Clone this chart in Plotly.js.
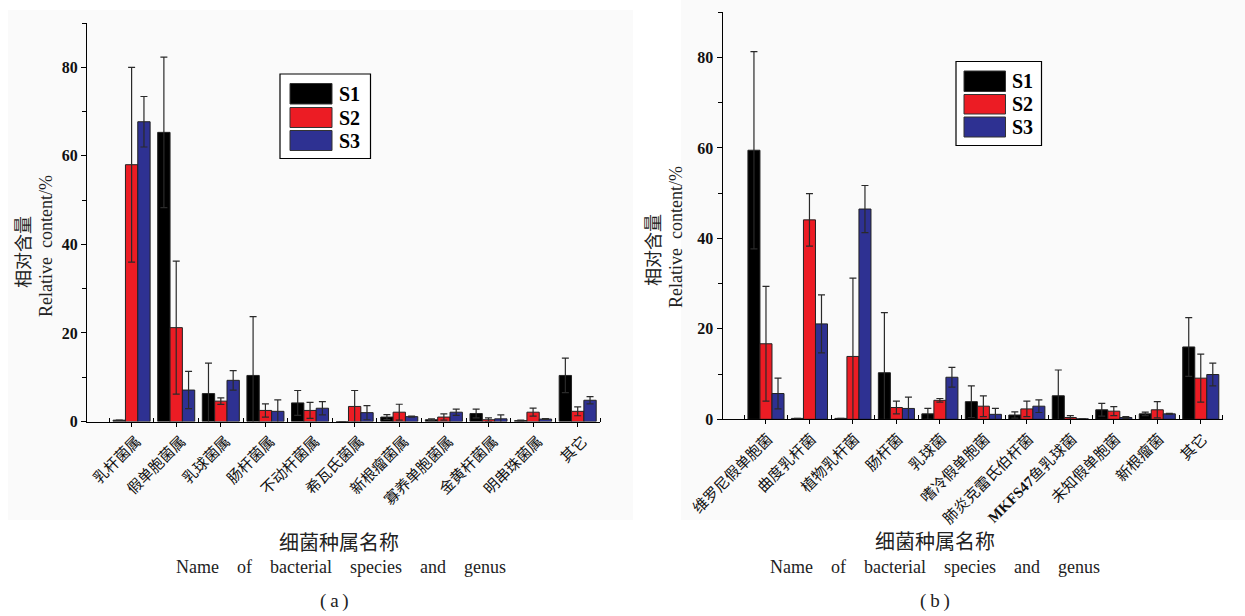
<!DOCTYPE html>
<html>
<head>
<meta charset="utf-8">
<script src="https://cdn.plot.ly/plotly-3.0.1.min.js"></script>
<style>html,body{margin:0;padding:0;background:#fff;}#chart{width:1245px;height:616px;}</style>
</head>
<body>
<div id="chart"></div>
<script>
// ---------- Data: panel (a) ----------
const catsA = ['乳杆菌属','假单胞菌属','乳球菌属','肠杆菌属','不动杆菌属','希瓦氏菌属','新根瘤菌属','寡养单胞菌属','金黄杆菌属','明串珠菌属','其它'];
const s1A    = [0.3, 65.3, 6.3, 10.4, 4.2, 0, 1.0, 0.4, 1.8, 0.2, 10.4];
const s1AErr = [0, 17.0, 6.9, 13.3, 2.8, 0, 0.55, 0.2, 1.0, 0.1, 3.9];
const s2A    = [58.0, 21.2, 4.6, 2.5, 2.5, 3.4, 2.1, 1.0, 0.4, 2.1, 2.3];
const s2AErr = [22.0, 15.0, 0.75, 1.5, 1.8, 3.6, 1.8, 0.7, 0.4, 0.9, 1.0];
const s3A    = [67.7, 7.1, 9.3, 2.3, 3.0, 2.0, 1.1, 2.1, 0.6, 0.55, 4.8];
const s3AErr = [5.7, 4.2, 2.2, 2.6, 1.5, 1.6, 0.1, 0.7, 0.9, 0.1, 0.8];

// ---------- Data: panel (b) ----------
const catsB = ['维罗尼假单胞菌','曲度乳杆菌','植物乳杆菌','肠杆菌','乳球菌','嗜冷假单胞菌','肺炎克雷氏伯杆菌','<span style="font-family:Liberation Serif"><b>MKFS47</b></span>鱼乳球菌','未知假单胞菌','新根瘤菌','其它'];
const s1B    = [59.5, 0.2, 0.2, 10.3, 1.2, 3.9, 0.95, 5.2, 2.1, 1.2, 16.0];
const s1BErr = [21.8, 0, 0, 13.3, 1.2, 3.5, 0.7, 5.7, 1.4, 0.4, 6.5];
const s2B    = [16.7, 44.1, 13.9, 2.6, 4.2, 2.9, 2.3, 0.4, 1.8, 2.1, 9.1];
const s2BErr = [12.7, 5.8, 17.3, 1.4, 0.4, 2.3, 1.7, 0.4, 1.0, 1.8, 5.3];
const s3B    = [5.7, 21.1, 46.5, 2.4, 9.3, 1.1, 2.9, 0.1, 0.4, 1.2, 9.9];
const s3BErr = [3.4, 6.4, 5.2, 2.5, 2.2, 1.3, 1.4, 0, 0.2, 0.1, 2.5];

const seriesNames = ['S1','S2','S3'];
const seriesColors = ['#000000','#ec1c24','#2e3192'];
const yTicks = [0,20,40,60,80];

// ---------- helpers ----------
const W = 1245, H = 616;
const px = x => x / W;
const py = y => 1 - y / H;

function barTrace(cats, vals, errs, k, xa, ya) {
  return {
    type: 'bar',
    x: cats.map((c, i) => i),
    y: vals,
    name: seriesNames[k],
    xaxis: xa, yaxis: ya,
    showlegend: false,
    marker: {color: seriesColors[k], line: {color: '#222', width: 1}},
    error_y: {type: 'data', array: errs, visible: true, color: '#2a2a2a', thickness: 1.2, width: 3.5}
  };
}

const data = [
  barTrace(catsA, s1A, s1AErr, 0, 'x', 'y'),
  barTrace(catsA, s2A, s2AErr, 1, 'x', 'y'),
  barTrace(catsA, s3A, s3AErr, 2, 'x', 'y'),
  barTrace(catsB, s1B, s1BErr, 0, 'x2', 'y2'),
  barTrace(catsB, s2B, s2BErr, 1, 'x2', 'y2'),
  barTrace(catsB, s3B, s3BErr, 2, 'x2', 'y2')
];

const cjk = '"Noto Sans CJK SC", sans-serif';
const serif = '"Liberation Serif", "DejaVu Serif", serif';

function xAxis(cats, dom, anchor, shift) {
  return {
    domain: dom, anchor: anchor,
    range: [-1, 10.5],
    tickmode: 'array',
    tickvals: cats.map((c, i) => i),
    ticktext: cats,
    tickangle: -45,
    ticklabelshift: shift,
    ticks: 'outside', ticklen: 4, tickcolor: '#000', tickwidth: 1,
    minor: {tickmode: 'linear', tick0: -0.5, dtick: 1, ticks: 'inside', ticklen: 4, tickcolor: '#000'},
    showline: true, linecolor: '#000', linewidth: 1,
    showgrid: false, zeroline: false,
    tickfont: {family: cjk, size: 15, color: '#111'},
    fixedrange: true
  };
}
function yAxis(dom, anchor) {
  return {
    domain: dom, anchor: anchor,
    range: [0, 90],
    tickmode: 'array', tickvals: yTicks,
    ticks: 'outside', ticklen: 5, tickcolor: '#000', tickwidth: 1,
    minor: {tickmode: 'linear', tick0: 0, dtick: 10, ticks: 'outside', ticklen: 4, tickcolor: '#000'},
    showline: true, linecolor: '#000', linewidth: 1,
    showgrid: false, zeroline: false,
    tickfont: {family: serif, size: 16, color: '#111', weight: 'bold'},
    fixedrange: true
  };
}

// legend drawn as boxes
function legendShapes(box, swX0, swX1, rows) {
  const s = [{type: 'rect', xref: 'paper', yref: 'paper', x0: px(box[0]), x1: px(box[1]), y0: py(box[2]), y1: py(box[3]),
              line: {color: '#000', width: 1.2}, fillcolor: '#fff', layer: 'above'}];
  rows.forEach((r, k) => s.push({type: 'rect', xref: 'paper', yref: 'paper', x0: px(swX0), x1: px(swX1), y0: py(r[0]), y1: py(r[1]),
              line: {color: '#333', width: 1}, fillcolor: seriesColors[k], layer: 'above'}));
  return s;
}
function legendTexts(tx, rows) {
  return rows.map((r, k) => ({xref: 'paper', yref: 'paper', x: px(tx), y: py((r[0] + r[1]) / 2), xanchor: 'left', yanchor: 'middle',
    text: seriesNames[k], showarrow: false, font: {family: serif, size: 20, color: '#000', weight: 'bold'}}));
}

const rowsA = [[83.5, 104], [107.5, 127.5], [130.5, 150.5]];
const rowsB = [[71, 91.5], [94.5, 114], [117, 137]];

const shapes = [
  {type: 'rect', xref: 'paper', yref: 'paper', x0: px(8), x1: px(633), y0: py(520), y1: py(10), fillcolor: '#fafafa', line: {width: 0}, layer: 'below'},
  {type: 'rect', xref: 'paper', yref: 'paper', x0: px(681), x1: px(1245), y0: py(520), y1: py(0), fillcolor: '#fafafa', line: {width: 0}, layer: 'below'}
].concat(legendShapes([280, 370.5, 74, 158.5], 290, 332, rowsA))
 .concat(legendShapes([956, 1041.5, 61.5, 145.5], 964, 1005.5, rowsB));

function ann(x, y, text, font, angle) {
  return {xref: 'paper', yref: 'paper', x: px(x), y: py(y), xanchor: 'center', yanchor: 'middle', text: text,
          showarrow: false, font: font, textangle: angle || 0};
}
const gap = '\u00a0\u00a0\u00a0 ';
const enTitle = ['Name','of','bacterial','species','and','genus'].join(gap);
const zhTitle = '细菌种属名称';
const annotations = [
  ann(22, 252, '相对含量', {family: cjk, size: 18, color: '#222'}, -90),
  ann(46, 246, 'Relative\u00a0 content/%', {family: serif, size: 18, color: '#222'}, -90),
  ann(652, 250, '相对含量', {family: cjk, size: 18, color: '#222'}, -90),
  ann(676, 237, 'Relative\u00a0 content/%', {family: serif, size: 18, color: '#222'}, -90),
  ann(339, 541, zhTitle, {family: cjk, size: 20, color: '#222'}),
  ann(341, 567, enTitle, {family: serif, size: 18, color: '#222'}),
  ann(334, 601, '(\u2009a\u2009)', {family: serif, size: 19, color: '#222'}),
  ann(935, 540, zhTitle, {family: cjk, size: 20, color: '#222'}),
  ann(935, 567, enTitle, {family: serif, size: 18, color: '#222'}),
  ann(935, 601, '(\u2009b\u2009)', {family: serif, size: 19, color: '#222'})
].concat(legendTexts(336.5, rowsA)).concat(legendTexts(1010, rowsB));

const layout = {
  width: W, height: H,
  margin: {l: 0, r: 0, t: 0, b: 0},
  paper_bgcolor: '#ffffff',
  plot_bgcolor: 'rgba(0,0,0,0)',
  barmode: 'group', bargap: 0.17, bargroupgap: 0,
  showlegend: false,
  xaxis: xAxis(catsA, [px(87), px(600)], 'y', 5),
  yaxis: yAxis([py(421.5), py(23)], 'x'),
  xaxis2: xAxis(catsB, [px(722.5), px(1222.5)], 'y2', 2),
  yaxis2: yAxis([py(419.3), py(12.3)], 'x2'),
  shapes: shapes,
  annotations: annotations
};

Plotly.newPlot('chart', data, layout, {staticPlot: true, displayModeBar: false});
</script>
</body>
</html>
